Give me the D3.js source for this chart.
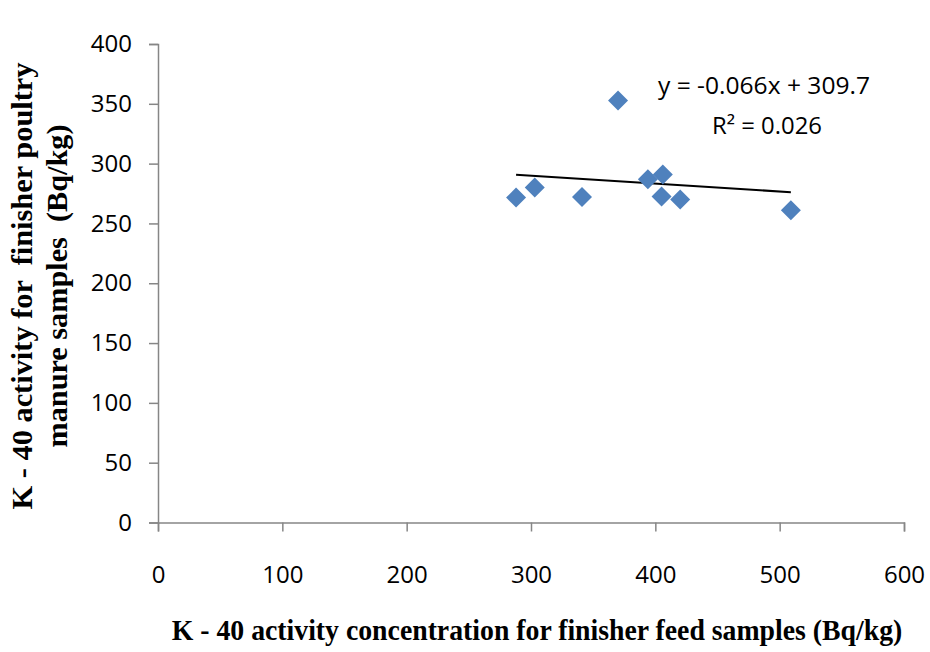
<!DOCTYPE html>
<html lang="en">
<head>
<meta charset="UTF-8"/>
<title>K-40 activity scatter</title>
<script src="https://d3js.org/d3.v7.min.js"></script>
<style>
	body { margin: 0; background: #fff; }
	.tick text { font-family: "Open Sans", "Liberation Sans", sans-serif; font-size: 24px; fill: #000; }
	.title { font-family: "Liberation Serif", "Times New Roman", serif; font-weight: bold; font-size: 30px; white-space: pre; }
	.eq { font-family: "Open Sans", "Liberation Sans", sans-serif; font-size: 24.5px; }
</style>
</head>
<body>
<script>

var w = 930;
var h = 652;

// feed samples (x) vs manure samples (y), Bq/kg
var feed   = [288, 303, 341, 370, 394, 406, 405, 420, 509];
var manure = [271.6, 280, 272, 352.7, 287, 291, 272.5, 270, 261];

var xTicks = [0, 100, 200, 300, 400, 500, 600];
var yTicks = [0, 50, 100, 150, 200, 250, 300, 350, 400];

// trendline as printed on the chart
var slope = -0.066;
var intercept = 309.7;
var rSquared = 0.026;

var xScale = d3.scaleLinear().domain([0, 600]).range([158, 904]);
var yScale = d3.scaleLinear().domain([0, 400]).range([522.5, 44]);

var svg = d3.select("body")
	.append("svg")
	.attr("width", w)
	.attr("height", h);

svg.append("rect").attr("width", w).attr("height", h).attr("fill", "#fff");

var xAxis = d3.axisBottom(xScale).tickValues(xTicks).tickSize(9).tickPadding(34);
var gx = svg.append("g")
	.attr("transform", "translate(0," + yScale(0) + ")")
	.call(xAxis);

var yAxis = d3.axisLeft(yScale).tickValues(yTicks).tickSize(9).tickPadding(17);
var gy = svg.append("g")
	.attr("transform", "translate(" + xScale(0) + ",0)")
	.call(yAxis);

[gx, gy].forEach(function(g) {
	g.select(".domain").attr("stroke", "#868686").attr("stroke-width", 1.5);
	g.selectAll(".tick line").attr("stroke", "#868686").attr("stroke-width", 1.5);
});

// trendline
var xMin = d3.min(feed), xMax = d3.max(feed);
svg.append("line")
	.attr("x1", xScale(xMin))
	.attr("y1", yScale(slope * xMin + intercept))
	.attr("x2", xScale(xMax))
	.attr("y2", yScale(slope * xMax + intercept))
	.attr("stroke", "#000")
	.attr("stroke-width", 2);

// diamonds
var diamond = d3.symbol().type(d3.symbolSquare).size(200);
svg.selectAll("path.pt")
	.data(d3.zip(feed, manure))
	.enter()
	.append("path")
	.attr("class", "pt")
	.attr("d", diamond)
	.attr("transform", function(d) {
		return "translate(" + xScale(d[0]) + "," + yScale(d[1]) + ") rotate(45)";
	})
	.attr("fill", "#4F81BD");

// equation
svg.append("text")
	.attr("class", "eq")
	.attr("x", 658)
	.attr("y", 94)
	.attr("textLength", 212)
	.attr("lengthAdjust", "spacingAndGlyphs")
	.text("y = " + slope + "x + " + intercept);

svg.append("text")
	.attr("class", "eq")
	.attr("x", 712)
	.attr("y", 134)
	.attr("textLength", 110)
	.attr("lengthAdjust", "spacingAndGlyphs")
	.text("R\u00B2 = " + rSquared.toFixed(3));

// X axis title - squeezed horizontally like the original
var xTitle = svg.append("text")
	.attr("class", "title")
	.attr("text-anchor", "middle")
	.style("font-size", "29px")
	.text("K - 40 activity concentration for finisher feed samples (Bq/kg)");
var xLen = xTitle.node().getComputedTextLength();
xTitle.attr("transform", "translate(537,640) scale(" + (731 / xLen) + ",1)");

// Y axis title, two lines
svg.append("text")
	.attr("class", "title")
	.attr("transform", "translate(32,286) rotate(-90)")
	.attr("text-anchor", "middle")
	.attr("textLength", 447)
	.attr("lengthAdjust", "spacingAndGlyphs")
	.text("K - 40 activity for  finisher poultry");

svg.append("text")
	.attr("class", "title")
	.attr("transform", "translate(67,286) rotate(-90)")
	.attr("text-anchor", "middle")
	.attr("textLength", 323)
	.attr("lengthAdjust", "spacingAndGlyphs")
	.text("manure samples  (Bq/kg)");

</script>
</body>
</html>
